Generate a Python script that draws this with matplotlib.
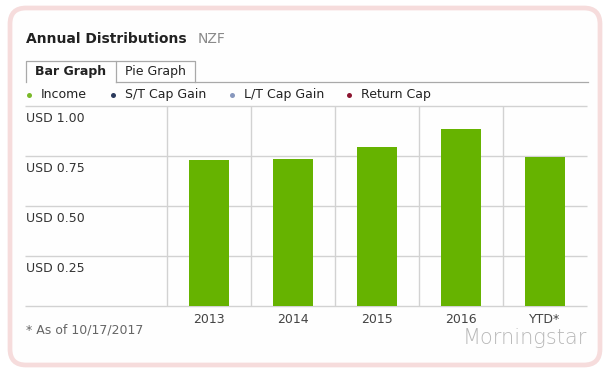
import matplotlib
matplotlib.use("Agg")
import matplotlib.pyplot as plt
from matplotlib.patches import FancyBboxPatch
from matplotlib.lines import Line2D

# ---- data ----
categories = ["2013", "2014", "2015", "2016", "YTD*"]
income = [0.730, 0.735, 0.795, 0.885, 0.743]
y_ticks = [0.25, 0.50, 0.75, 1.00]
y_tick_labels = ["USD 0.25", "USD 0.50", "USD 0.75", "USD 1.00"]
legend_labels = ["Income", "S/T Cap Gain", "L/T Cap Gain", "Return Cap"]
legend_colors = ["#7ab929", "#2b3a5c", "#8797bd", "#8c1530"]
title = "Annual Distributions"
ticker = "NZF"
footnote = "* As of 10/17/2017"

W, H = 609, 376
plt.rcParams['font.family'] = ['DejaVu Sans']
fig = plt.figure(figsize=(W / 100, H / 100), dpi=100)
fig.patch.set_facecolor("white")


def fx(x):
    return x / W


def fy(y):
    return 1 - y / H


# rounded pink frame (in inches so the corners stay round)
frame = FancyBboxPatch((10 / 100, (H - 365) / 100), 590 / 100, 357 / 100,
                       boxstyle="round,pad=0,rounding_size=0.16",
                       transform=fig.dpi_scale_trans, facecolor="#fefefe",
                       edgecolor="#f6dcdc", linewidth=3.4, zorder=-5)
fig.patches.append(frame)

# title
fig.text(fx(26), fy(39), title, fontsize=10, fontweight="bold", color="#222222",
         va="center", ha="left")
fig.text(fx(198), fy(39), ticker, fontsize=10, color="#8a8a8a", va="center", ha="left")

# tabs
tab_col = "#a9a9a9"
fig.lines.append(Line2D([fx(25.5), fx(25.5), fx(115.5), fx(115.5)],
                        [fy(82), fy(61), fy(61), fy(82)], transform=fig.transFigure,
                        color=tab_col, lw=0.9))
fig.lines.append(Line2D([fx(115.5), fx(194.5), fx(194.5)],
                        [fy(61), fy(61), fy(82)], transform=fig.transFigure,
                        color=tab_col, lw=0.9))
fig.lines.append(Line2D([fx(115.5), fx(588)], [fy(82), fy(82)], transform=fig.transFigure,
                        color=tab_col, lw=0.9))
fig.text(fx(70.5), fy(72), "Bar Graph", fontsize=9, fontweight="bold", color="#222222",
         ha="center", va="center")
fig.text(fx(155), fy(72), "Pie Graph", fontsize=9, color="#222222",
         ha="center", va="center")

# legend
dot_x = [29, 113, 232, 349]
for lx, lab, col in zip(dot_x, legend_labels, legend_colors):
    fig.lines.append(Line2D([fx(lx)], [fy(94.5)], transform=fig.transFigure, marker="o",
                            markersize=3.6, color=col, markeredgewidth=0))
    fig.text(fx(lx + 12), fy(94.5), lab, fontsize=9, color="#222222",
             ha="left", va="center")

# axes
cat_w = 84.0
left_px, right_px, top_px, bot_px = 25, 587, 106, 306
first_boundary = 167
ax = fig.add_axes([fx(left_px), fy(bot_px), (right_px - left_px) / W, (bot_px - top_px) / H])
ax.set_facecolor("none")
ax.set_zorder(2)
x0 = -0.5 - (first_boundary - left_px) / cat_w
x1 = 4.5 + (right_px - (first_boundary + 5 * cat_w)) / cat_w
ax.set_xlim(x0, x1)
ax.set_ylim(0, 1.0)
for s in ax.spines.values():
    s.set_visible(False)
ax.set_xticks([])
ax.set_yticks([])

grid_col = "#d2d2d2"
ax.hlines([0] + y_ticks, x0, x1, color=grid_col, lw=1.0, zorder=1, clip_on=False)
ax.vlines([i - 0.5 for i in range(len(categories))], 0, 1.0, color=grid_col, lw=1.0,
          zorder=1, clip_on=False)

xs = list(range(len(categories)))
ax.bar(xs, income, width=40 / cat_w, color="#66b300", zorder=2)

for v, lab in zip(y_ticks, y_tick_labels):
    ax.annotate(lab, xy=(0, v), xycoords=("axes fraction", "data"),
                xytext=(1, -9), textcoords="offset points", fontsize=9,
                color="#333333", ha="left", va="center", annotation_clip=False)
for x, lab in zip(xs, categories):
    ax.annotate(lab, xy=(x, 0), xycoords="data", xytext=(0, -10),
                textcoords="offset points", fontsize=9, color="#444444",
                ha="center", va="center", annotation_clip=False)

fig.text(fx(26), fy(330), footnote, fontsize=9, color="#666666", ha="left", va="center")
fig.text(fx(587), fy(338), "Morningstar", fontsize=15, color="#b8b8b8",
         ha="right", va="center", fontweight="light")

fig.savefig("out.png", dpi=100)
